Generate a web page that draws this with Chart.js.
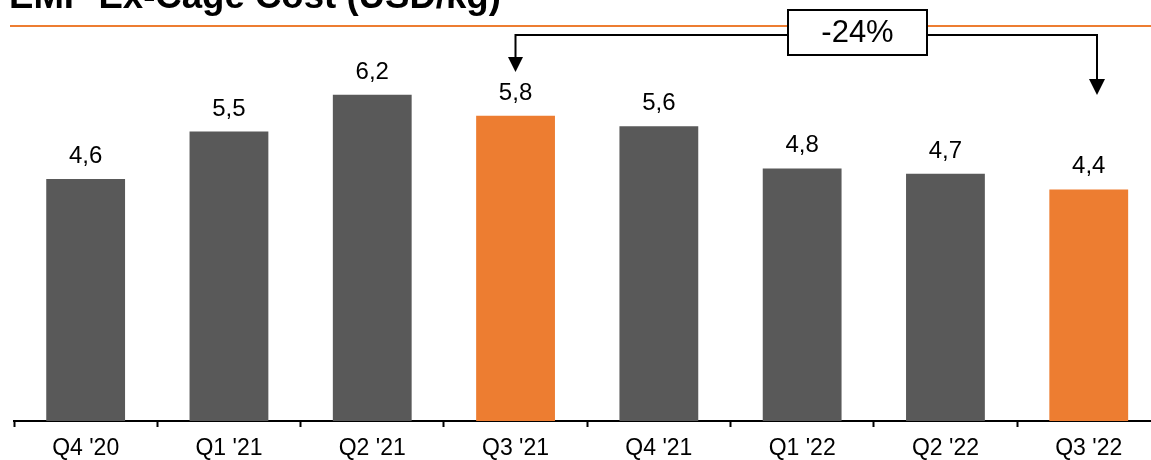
<!DOCTYPE html>
<html>
<head>
<meta charset="utf-8">
<script src="https://cdn.jsdelivr.net/npm/chart.js@4/dist/chart.umd.min.js"></script>
<style>
  html, body { margin: 0; padding: 0; background: #fff; overflow: hidden; }
  #wrap { width: 1170px; height: 471px; }
</style>
</head>
<body>
<div id="wrap"><canvas id="costChart" width="1170" height="471"></canvas></div>
<script>
// Datos del gráfico
const chartTitle = 'EMP Ex-Cage Cost (USD/kg)';
const quarters = ["Q4 '20", "Q1 '21", "Q2 '21", "Q3 '21", "Q4 '21", "Q1 '22", "Q2 '22", "Q3 '22"];
const costValues = [4.6, 5.5, 6.2, 5.8, 5.6, 4.8, 4.7, 4.4];
const highlighted = [false, false, false, true, false, false, false, true];
const changeLabel = '-24%';
const changeFrom = 3;
const changeTo = 7;

const GRAY = '#595959';
const ORANGE = '#ED7D31';
const FONT = '"Liberation Sans", Arial, sans-serif';

// Etiquetas, línea naranja, título y la flecha de variación
const decorPlugin = {
    id: 'decor',
    afterDatasetsDraw(chart) {
        const ctx = chart.ctx;
        const meta = chart.getDatasetMeta(0);
        ctx.save();

        // valores sobre las barras
        ctx.fillStyle = '#000';
        ctx.font = '24px ' + FONT;
        ctx.textAlign = 'center';
        ctx.textBaseline = 'alphabetic';
        meta.data.forEach((bar, i) => {
            const txt = costValues[i].toFixed(1).replace('.', ',');
            ctx.fillText(txt, bar.x, bar.y - 16);
        });

        // título (cortado arriba)
        ctx.textAlign = 'left';
        ctx.font = 'bold 36.6px ' + FONT;
        ctx.fillText(chartTitle, 9, 8);

        // línea naranja
        ctx.strokeStyle = ORANGE;
        ctx.lineWidth = 2;
        ctx.beginPath();
        ctx.moveTo(10, 26);
        ctx.lineTo(chart.width, 26);
        ctx.stroke();

        // flecha de variación
        const x = chart.scales.x;
        const x1 = Math.round(x.getPixelForValue(changeFrom)) - 0.5;
        const x2 = Math.round(x.getPixelForValue(changeTo)) + 8;
        const boxL = 788, boxR = 927, boxT = 10, boxB = 55;
        const lineY = 35;
        ctx.strokeStyle = '#000';
        ctx.lineWidth = 2;
        ctx.beginPath();
        ctx.moveTo(x1, 58);
        ctx.lineTo(x1, lineY);
        ctx.lineTo(boxL, lineY);
        ctx.moveTo(boxR, lineY);
        ctx.lineTo(x2, lineY);
        ctx.lineTo(x2, 80);
        ctx.stroke();

        ctx.fillStyle = '#000';
        ctx.beginPath();
        ctx.moveTo(x1 - 7.5, 57);
        ctx.lineTo(x1 + 7.5, 57);
        ctx.lineTo(x1, 72);
        ctx.closePath();
        ctx.fill();
        ctx.beginPath();
        ctx.moveTo(x2 - 8, 79);
        ctx.lineTo(x2 + 8, 79);
        ctx.lineTo(x2, 95);
        ctx.closePath();
        ctx.fill();

        ctx.fillStyle = '#fff';
        ctx.fillRect(boxL, boxT, boxR - boxL, boxB - boxT);
        ctx.strokeRect(boxL, boxT, boxR - boxL, boxB - boxT);
        ctx.fillStyle = '#000';
        ctx.font = '31px ' + FONT;
        ctx.textAlign = 'center';
        ctx.textBaseline = 'middle';
        ctx.fillText(changeLabel, (boxL + boxR) / 2, (boxT + boxB) / 2 + 1);

        ctx.restore();
    }
};

const ctxCost = document.getElementById('costChart').getContext('2d');
const costChart = new Chart(ctxCost, {
    type: 'bar',
    data: {
        labels: quarters,
        datasets: [{
            label: 'Cost',
            data: costValues,
            backgroundColor: highlighted.map(h => h ? ORANGE : GRAY),
            barPercentage: 0.55,
            categoryPercentage: 1
        }]
    },
    options: {
        responsive: false,
        animation: false,
        layout: { padding: { left: 14, right: 9.6, top: 0, bottom: 0 } },
        plugins: {
            legend: { display: false },
            tooltip: { enabled: false }
        },
        scales: {
            x: {
                grid: {
                    display: true,
                    drawOnChartArea: false,
                    drawTicks: true,
                    tickLength: 6,
                    tickWidth: 2,
                    color: '#000',
                    offset: true
                },
                border: { color: '#000', width: 2 },
                ticks: {
                    color: '#000',
                    font: { family: FONT, size: 23 },
                    padding: 8.2,
                    maxRotation: 0,
                    autoSkip: false
                }
            },
            y: {
                display: false,
                min: 0,
                max: 8
            }
        }
    },
    plugins: [decorPlugin]
});
</script>
</body>
</html>
